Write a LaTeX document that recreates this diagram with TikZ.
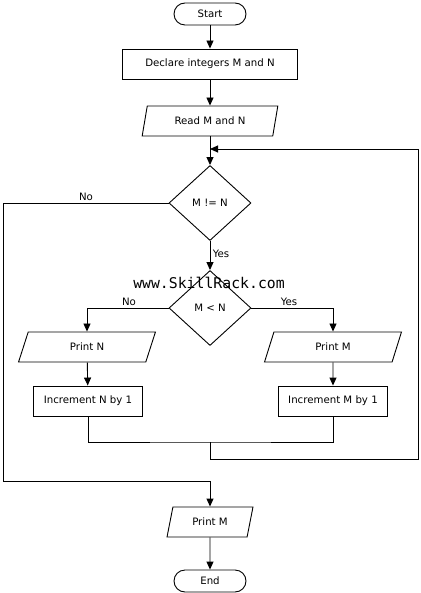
\documentclass[tikz,border=0pt]{standalone}
\usepackage{fontspec}
\setmainfont{DejaVu Sans}
\newfontfamily\wmfont{DejaVu Sans Mono}
\usetikzlibrary{shapes.geometric,arrows.meta}

\tikzset{
  every node/.style={font=\fontsize{10.2}{12}\selectfont},
  flowline/.style={line width=0.9pt},
  flowarrow/.style={flowline, -{Triangle[length=8pt,width=7pt]}},
  terminal/.style={draw, flowline, rectangle, rounded corners=11pt,
    minimum width=72pt, minimum height=22pt, inner sep=0pt},
  process/.style={draw, flowline, rectangle, minimum height=30pt, inner sep=0pt},
  io/.style={draw, flowline, trapezium, trapezium left angle=70,
    trapezium right angle=110, trapezium stretches=true,
    minimum height=30pt, inner sep=0pt},
  decision/.style={draw, flowline, diamond, minimum width=82pt,
    minimum height=75pt, inner sep=0pt},
}

\begin{document}
\begin{tikzpicture}
  [x=1pt, y=-1pt]
  \useasboundingbox (0,0) rectangle (420,593);
  \node[terminal] (start) at (210, 14) {Start};
  \node[process, minimum width=175pt] (decl) at (210, 64) {Declare integers M and N};
  \node[io, minimum width=136pt] (read) at (210, 121) {Read M and N};
  \node[decision] (cond1) at (210, 203) {M != N};
  \node[decision] (cond2) at (210, 308) {M < N};
  \node[io, minimum width=137pt] (printn) at (87, 347) {Print N};
  \node[io, minimum width=137pt] (printm) at (333, 347) {Print M};
  \node[process, minimum width=109pt] (incn) at (88, 401) {Increment N by 1};
  \node[process, minimum width=109pt] (incm) at (333, 401) {Increment M by 1};
  \node[io, minimum width=86pt] (printr) at (210, 522) {Print M};
  \node[terminal] (stop) at (210, 581) {End};

  \node (no1) at (86, 197) {No};
  \node (yes1) at (221, 254) {Yes};
  \node (no2) at (129, 302) {No};
  \node (yes2) at (289, 302) {Yes};
  \node[font=\wmfont\fontsize{14.8}{16}\selectfont] (wm) at (209, 283) {www.SkillRack.com};

  \coordinate (entry) at (210, 149);
  \coordinate (merge) at (210, 442);
  \coordinate (loopr) at (418, 459);
  \coordinate (exitl) at (3, 481);

  \foreach \from/\to in {start/decl,decl/read,cond1/cond2,printn/incn,printm/incm,printr/stop}
  \draw[flowarrow] (\from) -- (\to);
  \draw[flowarrow] (read.south -| entry) -- (cond1.north);
  \draw[flowarrow] (cond2.west) -| (printn.north);
  \draw[flowarrow] (cond2.east) -| (printm.north);
  \draw[flowline] (incn.south) |- (merge) -| (incm.south);
  \draw[flowarrow] (merge) |- (loopr) |- (entry);
  \draw[flowline] (cond1.west) -| (exitl);
  \draw[flowarrow] (exitl) -| (printr.north);
\end{tikzpicture}
\end{document}
